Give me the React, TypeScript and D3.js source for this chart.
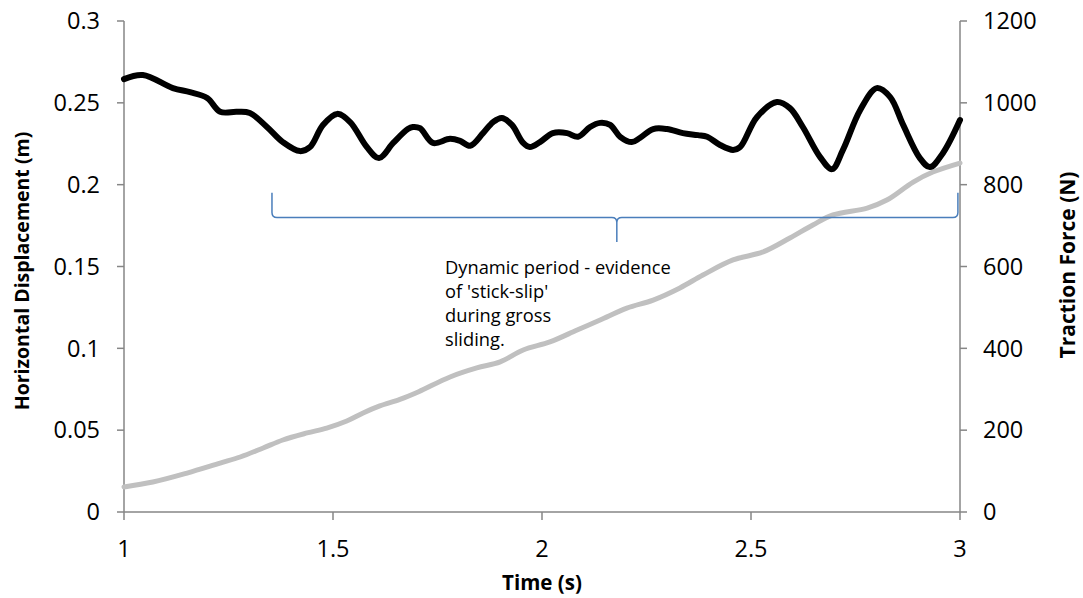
import React from "react";
import * as d3 from "d3";

const width = 1083;
const height = 598;
const margin = { top: 21, right: 123, bottom: 86, left: 124 };

// axis ticks
const timeTicks = [1, 1.5, 2, 2.5, 3];
const dispTicks = [0, 0.05, 0.1, 0.15, 0.2, 0.25, 0.3];
const forceTicks = [0, 200, 400, 600, 800, 1000, 1200];

// traction force (N) - black, right axis
const forceTime = [
  1.0, 1.045, 1.117, 1.158, 1.199, 1.23, 1.27, 1.301, 1.342, 1.38, 1.421, 1.445,
  1.476, 1.51, 1.541, 1.581, 1.61, 1.644, 1.679, 1.691, 1.708, 1.739, 1.78, 1.804,
  1.828, 1.859, 1.883, 1.904, 1.928, 1.955, 1.971, 1.995, 2.026, 2.06, 2.086, 2.115,
  2.139, 2.163, 2.187, 2.215, 2.234, 2.266, 2.299, 2.337, 2.373, 2.395, 2.426, 2.457,
  2.474, 2.514, 2.562, 2.593, 2.624, 2.665, 2.694, 2.72, 2.761, 2.801, 2.833, 2.864,
  2.904, 2.928, 2.959, 3.0,
];
const forceValues = [
  1058, 1068, 1036, 1026, 1012, 978, 978, 975, 941, 904, 882, 892,
  946, 973, 953, 892, 865, 902, 936, 941, 938, 902, 912, 907,
  895, 926, 953, 963, 946, 902, 892, 904, 926, 926, 917, 941,
  951, 946, 917, 904, 914, 936, 936, 926, 921, 917, 897, 885,
  892, 965, 1002, 987, 941, 868, 838, 885, 982, 1036, 1014, 946,
  865, 843, 877, 958,
];

// horizontal displacement (m) - grey, left axis
const dispTime = [
  1.0, 1.069, 1.151, 1.23, 1.278, 1.333, 1.38, 1.438, 1.485, 1.533, 1.572, 1.612,
  1.66, 1.705, 1.78, 1.844, 1.9, 1.955, 2.019, 2.084, 2.139, 2.203, 2.266, 2.33,
  2.385, 2.457, 2.529, 2.593, 2.648, 2.696, 2.778, 2.825, 2.888, 2.935, 3.0,
];
const dispValues = [
  0.0153, 0.0183, 0.0238, 0.0299, 0.0336, 0.0391, 0.044, 0.0483, 0.0513, 0.0556, 0.0605, 0.0648,
  0.0688, 0.0735, 0.0825, 0.088, 0.0917, 0.099, 0.1039, 0.1112, 0.1173, 0.1246, 0.1295, 0.1369,
  0.1448, 0.154, 0.1589, 0.1674, 0.1754, 0.1815, 0.1857, 0.1906, 0.2016, 0.2077, 0.2132,
];

// brace annotation: start, tip, end (time) and end / bar / tip levels (m)
const braceTime = [1.354, 2.179, 2.995];
const braceLevel = [0.195, 0.18, 0.165];
const noteLines = ["Dynamic period - evidence", "of 'stick-slip'", "during gross", "sliding."];
const noteTime = 1.768;

const font = "'Open Sans', sans-serif";
const axisColor = "#868686";

const App = () => {
  const innerWidth = width - margin.left - margin.right;
  const innerHeight = height - margin.top - margin.bottom;

  const x = d3.scaleLinear().domain([1, 3]).range([0, innerWidth]);
  const yLeft = d3.scaleLinear().domain([0, 0.3]).range([innerHeight, 0]);
  const yRight = d3.scaleLinear().domain([0, 1200]).range([innerHeight, 0]);

  const forceLine = d3
    .line<number>()
    .x((_, i) => x(forceTime[i]))
    .y((d) => yRight(d))
    .curve(d3.curveCatmullRom);

  const dispLine = d3
    .line<number>()
    .x((_, i) => x(dispTime[i]))
    .y((d) => yLeft(d))
    .curve(d3.curveCatmullRom);

  const xl = x(braceTime[0]);
  const xm = x(braceTime[1]);
  const xr = x(braceTime[2]);
  const yTop = yLeft(braceLevel[0]);
  const yBar = yLeft(braceLevel[1]);
  const yTip = yLeft(braceLevel[2]);
  const r = 5;
  const brace = `M${xl},${yTop} L${xl},${yBar - r} Q${xl},${yBar} ${xl + r},${yBar} L${xm - r},${yBar} Q${xm},${yBar} ${xm},${yBar + r} L${xm},${yTip} L${xm},${yBar + r} Q${xm},${yBar} ${xm + r},${yBar} L${xr - r},${yBar} Q${xr},${yBar} ${xr},${yBar - r} L${xr},${yTop}`;

  return (
    <svg
      width={width}
      height={height}
      style={{ position: "absolute", left: 0, top: 0, background: "white" }}
    >
      <rect width={width} height={height} fill="white" />
      <g transform={`translate(${margin.left},${margin.top})`} fontFamily={font}>
        {/* left axis */}
        <line x1={0} x2={0} y1={0} y2={innerHeight} stroke={axisColor} strokeWidth={1.5} />
        {dispTicks.map((t) => (
          <g key={t} transform={`translate(0,${yLeft(t)})`}>
            <line x1={-7} x2={0} stroke={axisColor} strokeWidth={1.5} />
            <text x={-24} dy="0.35em" textAnchor="end" fontSize={23.5} fill="#000">
              {t}
            </text>
          </g>
        ))}

        {/* right axis */}
        <line x1={innerWidth} x2={innerWidth} y1={0} y2={innerHeight} stroke={axisColor} strokeWidth={1.5} />
        {forceTicks.map((t) => (
          <g key={t} transform={`translate(${innerWidth},${yRight(t)})`}>
            <line x1={0} x2={7} stroke={axisColor} strokeWidth={1.5} />
            <text x={23} dy="0.35em" textAnchor="start" fontSize={23.5} fill="#000">
              {t}
            </text>
          </g>
        ))}

        {/* bottom axis */}
        <line x1={0} x2={innerWidth} y1={innerHeight} y2={innerHeight} stroke={axisColor} strokeWidth={1.5} />
        {timeTicks.map((t) => (
          <g key={t} transform={`translate(${x(t)},${innerHeight})`}>
            <line y1={0} y2={8} stroke={axisColor} strokeWidth={1.5} />
            <text y={37} dy="0.35em" textAnchor="middle" fontSize={23.5} fill="#000">
              {t}
            </text>
          </g>
        ))}

        {/* series */}
        <path d={dispLine(dispValues) ?? ""} fill="none" stroke="#c0c0c0" strokeWidth={5} strokeLinejoin="round" strokeLinecap="round" />
        <path d={forceLine(forceValues) ?? ""} fill="none" stroke="#000" strokeWidth={6} strokeLinejoin="round" strokeLinecap="round" />

        {/* annotation */}
        <path d={brace} fill="none" stroke="#4a7ebb" strokeWidth={1.5} />
        {noteLines.map((line, i) => (
          <text key={line} x={x(noteTime)} y={yTip + 32 + i * 24} fontSize={18.3} fill="#000">
            {line}
          </text>
        ))}

        {/* titles */}
        <text x={innerWidth / 2} y={innerHeight + 71} dy="0.35em" textAnchor="middle" fontSize={20.5} fontWeight="bold">
          Time (s)
        </text>
        <text
          transform={`translate(${22 - margin.left},250) rotate(-90)`}
          dy="0.35em"
          textAnchor="middle"
          fontSize={19.5}
          fontWeight="bold"
        >
          Horizontal Displacement (m)
        </text>
        <text
          transform={`translate(${1068 - margin.left},244) rotate(-90)`}
          dy="0.35em"
          textAnchor="middle"
          fontSize={21}
          fontWeight="bold"
        >
          Traction Force (N)
        </text>
      </g>
    </svg>
  );
};

export default App;
